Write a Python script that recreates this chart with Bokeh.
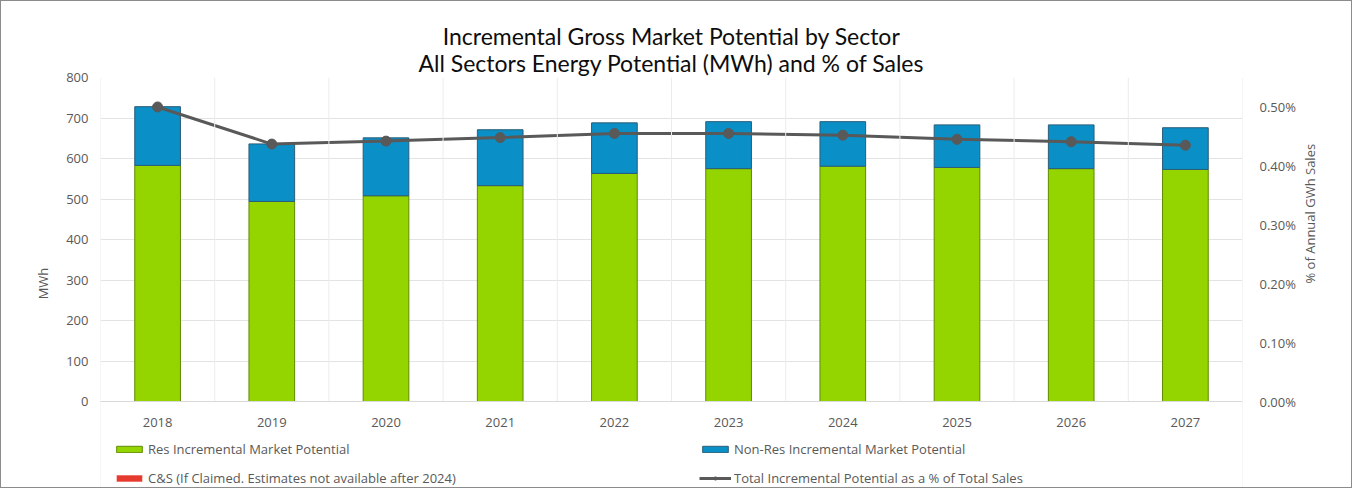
import math
from bokeh.plotting import figure
from bokeh.core.properties import value
from bokeh.models import (Range1d, LinearAxis, FixedTicker, NumeralTickFormatter, Legend,
                          LegendItem, Span, Title, FactorRange, ColumnDataSource, BoxAnnotation)
from bokeh.embed import file_html
from bokeh.resources import INLINE

years = ["2018", "2019", "2020", "2021", "2022", "2023", "2024", "2025", "2026", "2027"]
res = [583, 494, 508, 533, 563, 575, 581, 578, 575, 573]
nonres = [145, 142, 143, 138, 125, 116, 110, 105, 108, 103]
cs = [0, 0, 0, 0, 0, 0, 0, 0, 0, 0]
pct = [0.00500, 0.00437, 0.00442, 0.00448, 0.00455, 0.00455, 0.00452, 0.00445, 0.00441, 0.00435]

left_ticks = [0, 100, 200, 300, 400, 500, 600, 700, 800]
right_ticks = [0.0, 0.001, 0.002, 0.003, 0.004, 0.005]

title1 = "Incremental Gross Market Potential by Sector"
title2 = "All Sectors Energy Potential (MWh) and % of Sales"
left_label = "MWh"
right_label = "% of Annual GWh Sales"
names = ["Res Incremental Market Potential", "Non-Res Incremental Market Potential",
         "C&S (If Claimed. Estimates not available after 2024)",
         "Total Incremental Potential as a % of Total Sales"]

GREEN = "#94d500"
BLUE = "#0a8fc6"
RED = "#e63a2e"
GRAY = "#595959"
TXT = "#595959"
FONT = "Open Sans"

# layout (pixels): plot area of the bars is 324 px tall, with 88 px kept below it
W, H = 1352, 488
TOP = 76
BARS_PX = 324
BELOW_PX = H - TOP - BARS_PX
y_top = 800
y_bottom = -y_top * BELOW_PX / BARS_PX
r_top = 0.0055
r_bottom = -r_top * BELOW_PX / BARS_PX
label_y = -21 * y_top / BARS_PX

p = figure(x_range=FactorRange(*years), y_range=Range1d(y_bottom, y_top), width=W, height=H,
           output_backend="svg", toolbar_location=None,
           min_border_left=99, min_border_right=111, min_border_top=TOP, min_border_bottom=0)
p.title = None
p.outline_line_color = None
p.styles = {"border": "1px solid #8c8c8c"}

src = ColumnDataSource(dict(x=years, res=res, nonres=nonres, cs=cs, pct=pct))
bars = p.vbar_stack(["res", "nonres", "cs"], x="x", width=0.4, source=src,
                    color=[GREEN, BLUE, RED],
                    line_color=["#5e8a00", "#2b5d78", None], line_width=1)

p.extra_y_ranges = {"pct": Range1d(r_bottom, r_top)}
ln = p.line("x", "pct", source=src, y_range_name="pct", line_color=GRAY, line_width=3)
sc = p.scatter("x", "pct", source=src, y_range_name="pct", size=10, fill_color=GRAY,
               line_color=GRAY)

# grid
p.ygrid.ticker = FixedTicker(ticks=left_ticks)
p.ygrid.grid_line_color = "#e3e3e3"
p.xgrid.grid_line_color = None
for i in range(len(years) + 1):
    p.add_layout(Span(location=i, dimension="height", line_color="#ececec", line_width=1))

# white area below the zero line (x labels and legend live there)
p.add_layout(BoxAnnotation(top=0, fill_color="white", fill_alpha=1.0, line_color=None))
p.add_layout(Span(location=0, dimension="width", line_color="#d9d9d9", line_width=1))

# x axis: category labels drawn as text below the zero line
p.xaxis.visible = False
p.text(x=years, y=[label_y] * len(years), text=years, text_align="center",
       text_baseline="middle", text_font=value(FONT), text_font_size="13px",
       text_color=TXT, level="overlay")

# left axis
p.yaxis.ticker = FixedTicker(ticks=left_ticks)
p.yaxis.axis_line_color = None
p.yaxis.major_tick_line_color = None
p.yaxis.minor_tick_line_color = None
p.yaxis.major_tick_out = 0
p.yaxis.major_label_standoff = 12
p.yaxis.major_label_text_font = FONT
p.yaxis.major_label_text_font_size = "13px"
p.yaxis.major_label_text_color = TXT
p.yaxis.axis_label = left_label
p.yaxis.axis_label_text_font = FONT
p.yaxis.axis_label_text_font_size = "13px"
p.yaxis.axis_label_text_font_style = "normal"
p.yaxis.axis_label_text_color = TXT
p.yaxis.axis_label_standoff = 11

# right axis
ra = LinearAxis(y_range_name="pct", ticker=FixedTicker(ticks=right_ticks),
                formatter=NumeralTickFormatter(format="0.00%"))
ra.axis_line_color = None
ra.major_tick_line_color = None
ra.minor_tick_line_color = None
ra.major_tick_out = 0
ra.major_label_standoff = 17
ra.major_label_text_font = FONT
ra.major_label_text_font_size = "13px"
ra.major_label_text_color = TXT
ra.axis_label = right_label
ra.axis_label_text_font = FONT
ra.axis_label_text_font_size = "13px"
ra.axis_label_text_font_style = "normal"
ra.axis_label_text_color = TXT
ra.axis_label_standoff = 11
try:
    ra.axis_label_orientation = math.pi / 2
except Exception:
    pass
p.add_layout(ra, "right")

# titles
t2 = Title(text=title2, align="center", text_font="Lato", text_font_size="23px",
           text_font_style="normal", text_color="#0d0d0d", standoff=2, offset=6)
t1 = Title(text=title1, align="center", text_font="Lato", text_font_size="23px",
           text_font_style="normal", text_color="#0d0d0d", standoff=-8, offset=6)
p.add_layout(t2, "above")
p.add_layout(t1, "above")

# legend (inside the plot area, below the zero line)
items = [LegendItem(label=names[0], renderers=[bars[0]]),
         LegendItem(label=names[1], renderers=[bars[1]]),
         LegendItem(label=names[2], renderers=[bars[2]]),
         LegendItem(label=names[3], renderers=[ln, sc])]
leg = Legend(items=items, location=(13, 2), orientation="horizontal", ncols=2,
             glyph_width=32, glyph_height=8, label_height=17, label_width=540,
             label_standoff=3, spacing=11, padding=0, margin=0,
             label_text_font=FONT, label_text_font_size="13px", label_text_color=TXT,
             background_fill_alpha=0, border_line_color=None)
p.add_layout(leg, "center")

open("out.html", "w").write(file_html(p, INLINE))
